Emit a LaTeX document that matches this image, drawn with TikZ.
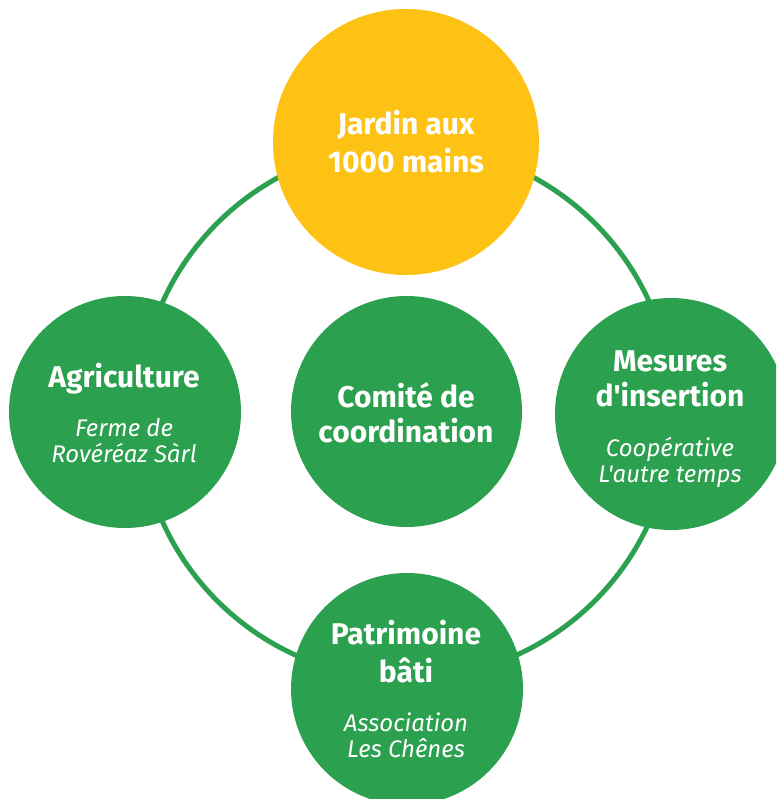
\documentclass[tikz,border=0pt]{standalone}
\usepackage{fontspec}
\setmainfont{Fira Sans}[Ligatures=TeXOff]
\definecolor{ringgreen}{HTML}{2BA04F}
\definecolor{sunyellow}{HTML}{FDC214}
\tikzset{
  disc/.style={circle, fill=#1, inner sep=0pt},
  titletext/.style={text=white, align=center, anchor=base, inner sep=0pt, font=\fontsize{30}{#1}\selectfont\bfseries},
  subtext/.style={text=white, align=center, anchor=base, inner sep=0pt, font=\fontsize{24}{26}\selectfont\itshape},
}
\begin{document}
\begin{tikzpicture}[x=1pt,y=-1pt]
\useasboundingbox (0,0) rectangle (776,799);
\clip (0,0) rectangle (776,799);
\fill[white] (0,0) rectangle (776,799);
\coordinate (hub) at (406,412);
\draw[ringgreen, line width=5pt] (hub) circle[radius=267];
\node[disc=sunyellow, minimum size=266pt] (top) at (406,142) {};
\node[disc=ringgreen, minimum size=232pt] (left) at (125,412) {};
\node[disc=ringgreen, minimum size=231pt] (mid) at (406.5,411.5) {};
\node[disc=ringgreen, minimum size=232pt] (right) at (671,414) {};
\node[disc=ringgreen, minimum size=232pt] (bottom) at (407,689) {};
\node[titletext=38] (toptitle) at (406,173) {Jardin aux\\1000 mains};
\node[titletext=35] (midtitle) at (406,442) {Comité de\\coordination};
\node[titletext=35] (lefttitle) at (124,387) {Agriculture};
\node[subtext] (leftsub) at (124,462) {Ferme de\\Rovéréaz Sàrl};
\node[titletext=35] (righttitle) at (670,406) {Mesures\\d'insertion};
\node[subtext] (rightsub) at (670,482) {Coopérative\\L'autre temps};
\node[titletext=38] (bottomtitle) at (406,682) {Patrimoine\\bâti};
\node[subtext] (bottomsub) at (406,757) {Association\\Les Chênes};
\end{tikzpicture}
\end{document}
